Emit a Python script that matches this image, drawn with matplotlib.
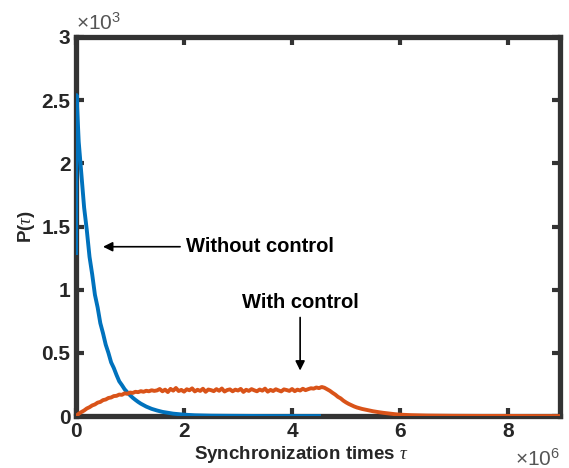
import numpy as np
import matplotlib.pyplot as plt
from matplotlib.ticker import FuncFormatter

# data (tau in units of 1e6, P in raw units)
tau_free_m = [0, 0.01, 0.05, 0.1, 0.15, 0.2, 0.25, 0.3, 0.35, 0.4, 0.45, 0.5,
              0.55, 0.6, 0.65, 0.7, 0.75, 0.8, 0.85, 0.9, 0.95, 1.0, 1.05, 1.1,
              1.15, 1.2, 1.3, 1.4, 1.5, 1.6, 1.7, 1.8, 2.0, 2.2, 2.5, 2.8,
              3.2, 3.6, 4.0, 4.5]
p_free = [1290, 2540, 2170, 1910, 1650, 1470, 1260, 1120, 960, 860, 735, 655,
          565, 500, 425, 380, 325, 275, 245, 212, 188, 165, 145, 128,
          112, 98, 75, 57, 44, 33, 26, 19, 11, 6, 3, 2,
          1, 0, 0, 0]

tau_ctrl_m = [0, 0.05, 0.1, 0.15, 0.2, 0.25, 0.3, 0.35, 0.4, 0.45, 0.5, 0.55,
              0.6, 0.65, 0.7, 0.75, 0.8, 0.85, 0.9, 0.95, 1.0, 1.05, 1.1, 1.15,
              1.2, 1.25, 1.3, 1.35, 1.4, 1.45,
              1.5, 1.55, 1.6, 1.65, 1.7, 1.75, 1.8, 1.85, 1.9, 1.95,
              2.0, 2.05, 2.1, 2.15, 2.2, 2.25, 2.3, 2.35, 2.4, 2.45,
              2.5, 2.55, 2.6, 2.65, 2.7, 2.75, 2.8, 2.85, 2.9, 2.95,
              3.0, 3.05, 3.1, 3.15, 3.2, 3.25, 3.3, 3.35, 3.4, 3.45,
              3.5, 3.55, 3.6, 3.65, 3.7, 3.75, 3.8, 3.85, 3.9, 3.95,
              4.0, 4.05, 4.1, 4.15, 4.2, 4.25, 4.3, 4.35, 4.4,
              4.45, 4.5, 4.55, 4.6, 4.65, 4.7, 4.75, 4.8, 4.85, 4.9, 4.95,
              5.0, 5.05, 5.1, 5.15, 5.2, 5.3, 5.4, 5.5, 5.6, 5.7, 5.8, 5.9,
              6.0, 6.2, 6.5, 7.0, 7.5, 8.0, 8.5, 9.0]
p_ctrl = [0, 18, 32, 44, 60, 70, 84, 92, 106, 112, 126, 131,
          143, 147, 158, 160, 170, 168, 180, 176, 186, 183, 192, 189,
          197, 192, 200, 196, 204, 199,
          203, 214, 196, 209, 190, 215, 201, 222, 198, 207,
          193, 212, 204, 219, 195, 208, 199, 216, 192, 210,
          205, 197, 213, 200, 218, 194, 206, 211, 196, 209,
          202, 215, 191, 208, 199, 213, 204, 196, 210, 201,
          217, 193, 207, 198, 212, 203, 195, 211, 206, 199,
          214, 197, 209, 202, 216, 205, 213, 220, 217,
          226, 221, 230, 224, 212, 200, 184, 170, 152, 140, 122,
          108, 96, 86, 76, 68, 56, 47, 38, 31, 25, 20, 15,
          11, 7, 4, 2, 1, 1, 0, 0]

tau_free = np.array(tau_free_m) * 1e6
tau_ctrl = np.array(tau_ctrl_m) * 1e6

plt.rcParams['font.family'] = ['Liberation Sans', 'DejaVu Sans']
plt.rcParams['mathtext.fontset'] = 'custom'
plt.rcParams['mathtext.it'] = 'Liberation Serif:italic'
plt.rcParams['mathtext.rm'] = 'Liberation Sans'

fig = plt.figure(figsize=(5.69, 4.68), dpi=100)
ax = fig.add_axes([0.1336, 0.111, 0.8504, 0.810])

# curves drawn above the box lines, as in the original
ax.plot(tau_free, p_free, color='#0072BD', lw=2.8, zorder=3)
ax.plot(tau_ctrl, p_ctrl, color='#D95319', lw=2.8, zorder=3)

ax.set_xlim(0, 8.96e6)
ax.set_ylim(0, 3000)
ax.set_xticks([0, 2e6, 4e6, 6e6, 8e6])
ax.set_yticks([0, 500, 1000, 1500, 2000, 2500, 3000])
ax.xaxis.set_major_formatter(FuncFormatter(lambda v, p: f'{v / 1e6:g}'))
ax.yaxis.set_major_formatter(FuncFormatter(lambda v, p: f'{v / 1e3:g}'))

dark = '#262626'
for s in ax.spines.values():
    s.set_linewidth(3.8)
    s.set_color('#333333')
ax.tick_params(direction='in', length=6, width=3, color='#333333',
               top=True, right=True, labelsize=15, labelcolor=dark, pad=4)
for lbl in ax.get_xticklabels() + ax.get_yticklabels():
    lbl.set_fontweight('bold')

# exponent labels
ax.text(0.0, 1.008, r'$\times$10$^3$', transform=ax.transAxes, fontsize=15,
        color='#555555', ha='left', va='bottom')
ax.text(1.0, -0.085, r'$\times$10$^6$', transform=ax.transAxes, fontsize=15,
        color='#555555', ha='right', va='top')

ax.set_xlabel(r'Synchronization times $\tau$', fontsize=13.5, fontweight='bold',
              color=dark)
ax.xaxis.set_label_coords(0.465, -0.073, transform=ax.transAxes)
ax.xaxis.label.set_va('top')
ax.set_ylabel(r'P($\tau$)', fontsize=13.5, fontweight='bold', color=dark, labelpad=3)

ax.annotate('Without control', xy=(0.5e6, 1340), xytext=(2.03e6, 1340),
            fontsize=14.5, fontweight='bold', va='center', ha='left',
            arrowprops=dict(arrowstyle='-|>', color='black', lw=1.2,
                            mutation_scale=14, shrinkA=2, shrinkB=0))
ax.text(4.15e6, 895, 'With control', fontsize=14.5, fontweight='bold',
        ha='center', va='center')
ax.annotate('', xy=(4.15e6, 360), xytext=(4.15e6, 780),
            arrowprops=dict(arrowstyle='-|>', color='black', lw=1.2,
                            mutation_scale=14, shrinkA=0, shrinkB=0))

fig.savefig('out.png', dpi=100)
